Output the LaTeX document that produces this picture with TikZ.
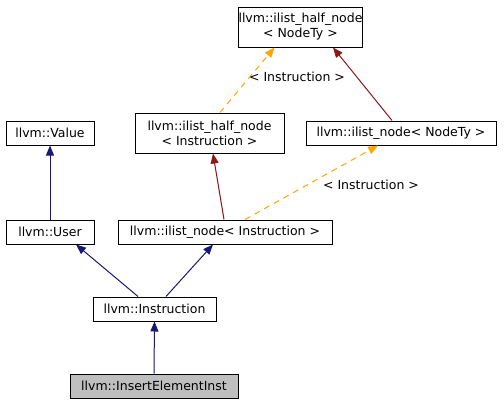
\documentclass[tikz,border=0pt]{standalone}
\usepackage{fontspec}
\setmainfont{DejaVu Sans}
\usetikzlibrary{arrows.meta}
\definecolor{navy}{HTML}{191970}
\definecolor{dred}{HTML}{8B1A1A}
\definecolor{orng}{HTML}{FFA500}
\definecolor{grayfill}{HTML}{BFBFBF}
\begin{document}
\begin{tikzpicture}[x=1pt,y=-1pt,
  box/.style={draw=black, line width=1pt, inner sep=0pt, align=center,
    font=\fontsize{12.5}{15}\selectfont},
  lbl/.style={inner sep=0pt, font=\fontsize{12.5}{15}\selectfont},
  navyarrow/.style={draw=navy, line width=1pt, -{Triangle[length=10pt,width=8pt]}},
  redarrow/.style={draw=dred, line width=1pt, -{Triangle[length=10pt,width=8pt]}},
  orngarrow/.style={draw=orng, line width=1pt, dash pattern=on 6pt off 5pt, -{Triangle[length=10pt,width=8pt]}}]
\useasboundingbox[fill=white] (0,0) rectangle (504,405);

\node[box, minimum width=119pt, minimum height=40pt] (A) at (300.5,27) {llvm::ilist\_half\_node\\< NodeTy >};
\node[box, minimum width=149pt, minimum height=40pt] (B) at (209.5,133) {llvm::ilist\_half\_node\\< Instruction >};
\node[box, minimum width=190pt, minimum height=24pt] (C) at (401,133) {llvm::ilist\_node< NodeTy >};
\node[box, minimum width=88pt, minimum height=24pt] (D) at (50,133) {llvm::Value};
\node[box, minimum width=88pt, minimum height=24pt] (E) at (50,232) {llvm::User};
\node[box, minimum width=214pt, minimum height=24pt] (F) at (225,232) {llvm::ilist\_node< Instruction >};
\node[box, minimum width=123pt, minimum height=24pt] (G) at (154.5,309) {llvm::Instruction};
\node[box, fill=grayfill, minimum width=168pt, minimum height=24pt] (H) at (154,386) {llvm::InsertElementInst};

\draw[navyarrow] (E.north) -- (D.south);
\draw[navyarrow] ([xshift=-16.5pt]G.north) -- ([xshift=26pt]E.south);
\draw[navyarrow] ([xshift=11.5pt]G.north) -- ([xshift=-12pt]F.south);
\draw[navyarrow] (H.north) -- (G.south);
\draw[redarrow] ([xshift=-1pt]F.north) -- ([xshift=3.5pt]B.south);
\draw[redarrow] ([xshift=-9pt]C.north) -- ([xshift=32.5pt]A.south);
\draw[orngarrow] ([xshift=10.5pt]B.north) -- ([xshift=-26pt]A.south);
\draw[orngarrow] ([xshift=20pt]F.north) -- ([xshift=-23pt]C.south);
\node[lbl] (L1) at (297,77) {< Instruction >};
\node[lbl] (L2) at (371,185) {< Instruction >};
\end{tikzpicture}
\end{document}
